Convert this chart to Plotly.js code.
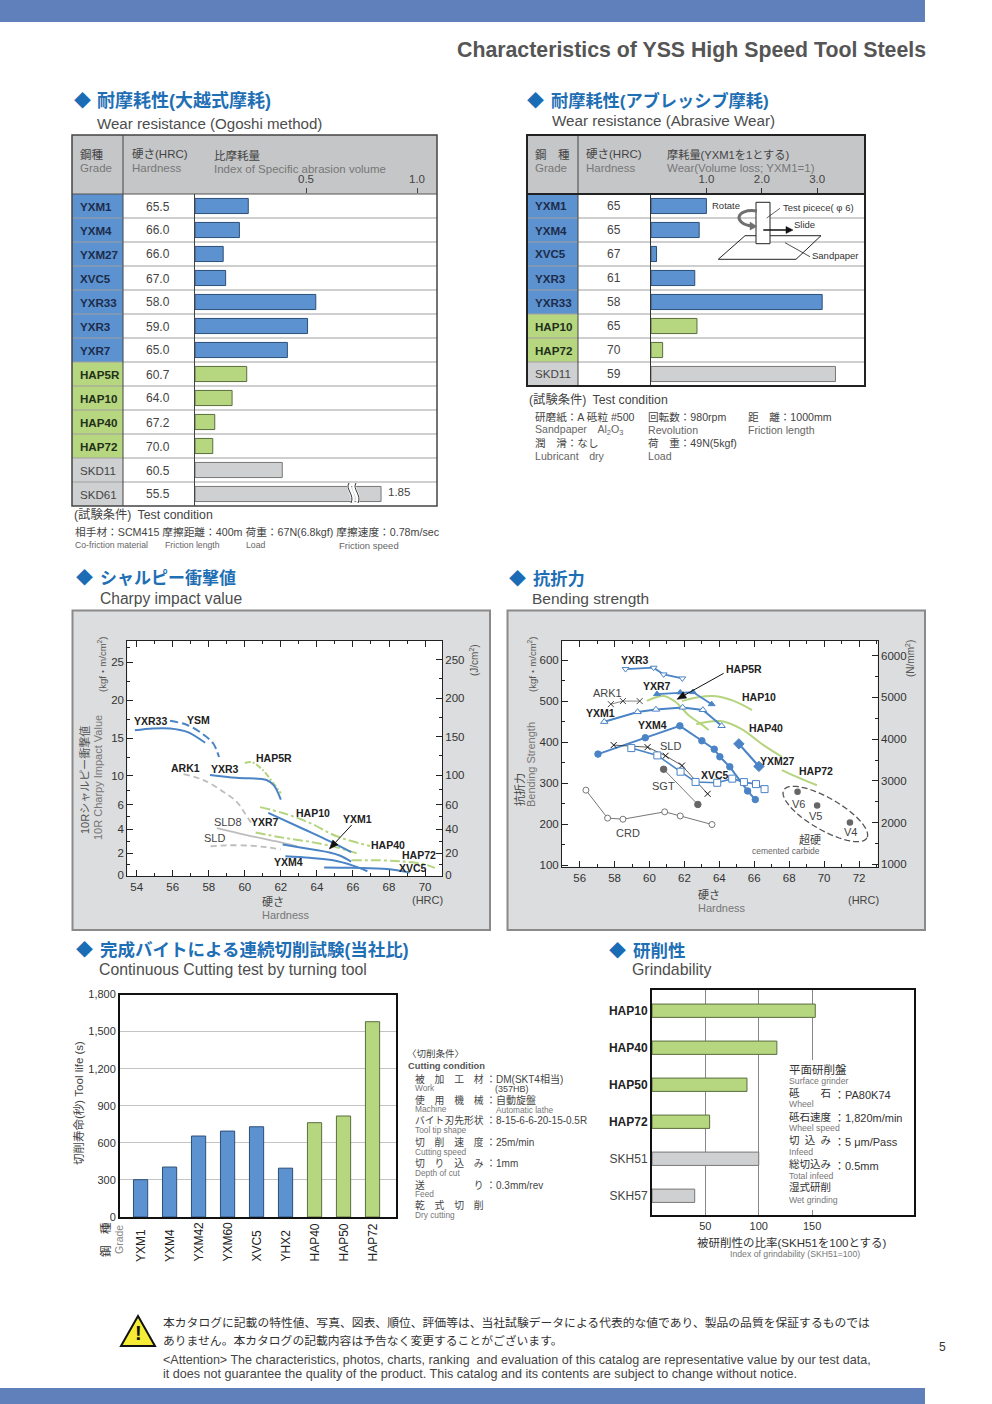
<!DOCTYPE html>
<html><head><meta charset="utf-8">
<script src="https://cdn.plot.ly/plotly-3.0.1.min.js"></script>
<style>html,body{margin:0;padding:0;background:#fff}#g{width:992px;height:1404px}</style>
</head><body><div id="g"></div>
<script>
// ---------- DATA ----------
const ogoshiGrades=['YXM1','YXM4','YXM27','XVC5','YXR33','YXR3','YXR7','HAP5R','HAP10','HAP40','HAP72','SKD11','SKD61'];
const ogoshiHardness=['65.5','66.0','66.0','67.0','58.0','59.0','65.0','60.7','64.0','67.2','70.0','60.5','55.5'];
const ogoshiValues=[0.24,0.20,0.127,0.138,0.544,0.507,0.416,0.233,0.167,0.089,0.08,0.393,0.838]; // SKD61 is drawn on a broken axis (1.85)
const abrasiveGrades=['YXM1','YXM4','XVC5','YXR3','YXR33','HAP10','HAP72','SKD11'];
const abrasiveHardness=['65','65','67','61','58','65','70','59'];
const abrasiveValues=[1.0,0.87,0.1,0.79,3.09,0.83,0.21,3.33];

const cYXR33x=[53.9,54.9,55.85,56.8,57.8], cYXR33y=[16.06,16.3,16.3,15.85,14.4];
const cYSMx=[55.85,56.8,57.7,58.25,58.57], cYSMy=[17.3,16.75,15.5,14.3,12.5];
const cHAP5Rx=[60,60.4,61,61.6,62], cHAP5Ry=[11.7,11.8,10.75,8.9,7.56];
const cYXR3x=[58.07,59.55,61.2,61.6,62], cYXR3y=[10.1,9.7,9.4,8.7,6.7];
const cARK1x=[56.6,57.7,58.8,59.55,60,60.4], cARK1y=[10.2,9.4,7.8,6.4,5.3,4.4];
const cSLD8x=[58.45,60.1,62.1,62.9], cSLD8y=[4.08,3.5,2.86,2.58];
const cSLDx=[58.1,59,60.3,61.2,62], cSLDy=[2.58,2.66,2.63,2.5,2.32];
const cHAP40x=[60.85,62.15,63.6,65.1,66.95], cHAP40y=[5.8,5.3,4.5,3.4,2.6];
const cHAP10x=[60.6,62.1,63.6,65.1,66.2], cHAP10y=[3.71,3.29,2.95,2.49,2.01];
const cHAP72x=[65.93,67.5,68.8,69.9,70.55], cHAP72y=[1.36,1.36,1.25,1.02,0.68];
const cYXR7x=[61.3,63.25,64.7,65.9], cYXR7y=[5.33,4.0,3.0,2.1];
const cYXM1x=[62.1,63.25,64.7,65.3,65.9], cYXM1y=[2.72,2.44,2.07,1.78,1.25];
const cYXM4x=[62.25,63.6,64.9,66.0,66.8], cYXM4y=[1.73,1.59,1.36,0.88,0.37];
const cXVC5x=[64.4,66,67.9,69.15], cXVC5y=[0.71,0.68,0.57,0.25];
const charpyTicks=[0,2,4,6,10,15,20,25];
const charpyTickPos=[0,22,46.3,70.6,99.6,137,175,213];
const charpyRightTicks=[0,20,40,60,100,150,200,250];
const charpyRightPos=[0,22,46.3,70.6,100.3,138.7,177.3,215.7];

const bYXR3x=[58.63,60.24,60.81,61.88], bYXR3y=[578.7,582,565.6,555.9];
const bYXR7x=[60.43,61.76,62.49,63.56], bYXR7y=[517.6,521.7,522.5,493];
const bARK1x=[57.79,58.48,59.44], bARK1y=[493,500.5,500.5];
const bYXM1x=[57.41,59.32,60.37,61.9,63.06,64.13], bYXM1y=[450,474,480,485,479,440];
const bYXM4x=[57.05,59.76,61.74,63,63.71,64.03,64.6,65.62,66.06], bYXM4y=[371,411,440,403.6,383,364.5,340,281,260];
const bSLDx=[57.95,59.89,60.92,61.86,63.33], bSLDy=[393,388,367,343,274];
const bXVC5x=[58.96,60.45,61.78,62.64,63.88,64.74,65.41,66.1,66.59], bXVC5y=[385.7,367.8,328,303,301,311,302.6,297.7,285.5];
const bSGTx=[60.81,62.77], bSGTy=[334,248];
const bCRDx=[56.36,57.6,58.48,60.87,61.76,63.58], bCRDy=[283,214.7,212,230,220,199];
const bYXM27x=[65.12,66.27], bYXM27y=[396,341];
const bHAP5Rx=[59.85,60.81,61.48,62.24,62.9,63.39], bHAP5Ry=[501,513,499,466,446,430];
const bHAP10x=[61.86,62.72,63.67,64.82,65.87], bHAP10y=[500.5,509.4,512.7,501,478.5];
const bHAP40x=[62.68,64.05,65.2,66.53,67.58], bHAP40y=[444,451.6,433.7,393,364.5];
const bHAP72x=[67.58,68.63,69.59], bHAP72y=[332,311.6,295];
const bCarbideX=[68.48,69.6,71.48], bCarbideY=[279,245.6,204];

const cutGrades=['YXM1','YXM4','YXM42','YXM60','XVC5','YHX2','HAP40','HAP50','HAP72'];
const cutValues=[302,404,655,695,730,395,763,817,1580];
const grindGrades=['HAP10','HAP40','HAP50','HAP72','SKH51','SKH57'];
const grindValues=[153,117,89,54,100,40];

// ---------- HELPERS ----------
const W=992,H=1404;
const FONT='"Liberation Sans","Noto Sans CJK JP",sans-serif';
const BLUE='#5d92d1',GREEN='#b6d67f',GRAY='#cfd0d1';
const LBLUE='#4a84c6',LGREEN='#b5d47e',LGRAY='#bdbdbd';
const colorOf=g=>g.startsWith('HAP')?GREEN:g.startsWith('SK')?GRAY:BLUE;
const lineOf=g=>g.startsWith('HAP')?'#5b6e3e':g.startsWith('SK')?'#777':'#2c4f78';
const dx=(a,b)=>[a/W,b/W], dy=(a,b)=>[1-b/H,1-a/H];
const shapes=[],ann=[];
function rect(x0,y0,x1,y1,fill,lc,lw,layer){shapes.push({type:'rect',xref:'paper',yref:'paper',x0:x0/W,x1:x1/W,y0:1-y0/H,y1:1-y1/H,fillcolor:fill||'rgba(0,0,0,0)',line:{color:lc||'rgba(0,0,0,0)',width:lw||0},layer:layer||'below'});}
function seg(x0,y0,x1,y1,c,w,layer,dash){shapes.push({type:'line',xref:'paper',yref:'paper',x0:x0/W,x1:x1/W,y0:1-y0/H,y1:1-y1/H,line:{color:c,width:w||1,dash:dash||'solid'},layer:layer||'below'});}
function pathPx(s,fill,c,w,layer,dash){let i=0;const p=s.replace(/-?\d+(\.\d+)?/g,m=>{const v=(i++%2===0)?(+m)/W:1-(+m)/H;return v.toFixed(5);});
  shapes.push({type:'path',xref:'paper',yref:'paper',path:p,fillcolor:fill||'rgba(0,0,0,0)',line:{color:c||'rgba(0,0,0,0)',width:w||0,dash:dash||'solid'},layer:layer||'above'});}
function T(x,y,text,o){o=o||{};ann.push({xref:'paper',yref:'paper',x:x/W,y:1-y/H,text:o.bold?'<b>'+text+'</b>':text,showarrow:false,xanchor:o.anchor||'left',yanchor:'middle',textangle:o.angle||0,borderpad:0,font:{family:o.family||FONT,size:o.size||11,color:o.color||'#444'}});}
function arrow(x,y,tx,ty,sz){const d=Math.hypot(tx-x,ty-y),ux=(tx-x)/d,uy=(ty-y)/d,bx=x+ux*sz*1.5,by=y+uy*sz*1.5,nx=-uy*sz*0.6,ny=ux*sz*0.6;
  seg(bx,by,tx,ty,'#111',1,'above');
  pathPx('M '+x.toFixed(2)+' '+y.toFixed(2)+' L '+(bx+nx).toFixed(2)+' '+(by+ny).toFixed(2)+' L '+(bx-nx).toFixed(2)+' '+(by-ny).toFixed(2)+' Z','#111','#111',0.5);}
function section(mx,jx,jy,jp,js,ex,ey,en,es){T(mx,jy,'◆',{size:17,color:'#1a6cb4',anchor:'center'});T(jx,jy,jp,{size:js,color:'#1f6fb5',bold:true});T(ex,ey,en,{size:es,color:'#4d4d4d'});}

const traces=[],layout={};
function barTrace(xa,ya,names,vals,gap){return {type:'bar',orientation:'h',x:vals,y:names,xaxis:xa,yaxis:ya,width:gap,marker:{color:names.map(colorOf),line:{color:names.map(lineOf),width:1}},hoverinfo:'skip',showlegend:false};}
function lineTrace(xa,ya,x,y,color,width,dash,marker,shape,name){const t={type:'scatter',mode:marker?'lines+markers':'lines',x,y,xaxis:xa,yaxis:ya,name,line:{color,width,dash:dash||'solid',shape:shape||'linear',smoothing:1},hoverinfo:'skip',showlegend:false};if(marker)t.marker=marker;return t;}
const axisHolder=(xa,ya)=>({type:'scatter',mode:'lines',x:[null],y:[null],xaxis:xa,yaxis:ya,hoverinfo:'skip',showlegend:false});

// page furniture
rect(0,0,925,22,'#5f80bb');
rect(0,1388,925,1404,'#5f80bb');
T(927,50,'Characteristics of YSS High Speed Tool Steels',{bold:true,size:21.3,color:'#555',anchor:'right'});

// ---------- TABLE 1 ----------
section(82,96,101,'耐摩耗性(大越式摩耗)',18,96,123,'Wear resistance (Ogoshi method)',15.1);
const t1Top=194,rowH=24;
rect(72,135,437,t1Top,'#c5c6c8');
ogoshiGrades.forEach((g,i)=>{const y=t1Top+i*rowH;rect(72,y,123,y+rowH,colorOf(g));
  if(i>0)seg(72,y,437,y,'#a0a0a0',1.2);
  const hap=!g.startsWith('SK');
  T(79,y+12.5,g,{bold:hap,size:11.6,color:g.startsWith('HAP')?'#22301a':hap?'#1c2c4a':'#444'});
  T(158,y+12.5,ogoshiHardness[i],{size:12,anchor:'center',color:'#444'});});
seg(123,135,123,506,'#444',1);
seg(72,t1Top,437,t1Top,'#555',1);
rect(72,135,437,506,null,'#444',1.5,'above');
T(79,154,'鋼種',{size:11.5});T(79,168,'Grade',{size:11.5,color:'#777'});
T(131,154,'硬さ(HRC)',{size:11.5});T(131,168,'Hardness',{size:11.5,color:'#777'});
T(213,156,'比摩耗量',{size:11.5});T(213,169,'Index of Specific abrasion volume',{size:11.5,color:'#777'});
T(387,492,'1.85',{size:11.5});
pathPx('M 350 484 C 346 489 356 495 352 502','rgba(0,0,0,0)','#fff',4);
pathPx('M 355 484 C 351 489 361 495 357 502','rgba(0,0,0,0)','#fff',4);
pathPx('M 349 483 C 345 489 355 495 351 503','rgba(0,0,0,0)','#333',1);
pathPx('M 356 483 C 352 489 362 495 358 503','rgba(0,0,0,0)','#333',1);
T(73,515,'(試験条件)\u2002Test condition',{size:12.3});
T(74,532,'相手材：SCM415 摩擦距離：400m 荷重：67N(6.8kgf) 摩擦速度：0.78m/sec',{size:10.7});
T(74,545,'Co-friction material',{size:8.7,color:'#666'});T(164,545,'Friction length',{size:8.7,color:'#666'});T(245,545,'Load',{size:8.7,color:'#666'});T(338,545,'Friction speed',{size:9.5,color:'#666'});
traces.push(barTrace('x','y',ogoshiGrades,ogoshiValues,0.63));
layout.xaxis={domain:dx(195,437),range:[0,1.09],side:'top',anchor:'y',ticks:'outside',ticklen:5,tickcolor:'#444',tickvals:[0.5,1],ticktext:['0.5','1.0'],showgrid:false,zeroline:false,showline:false,tickfont:{family:FONT,size:11.5,color:'#444'},fixedrange:true};
layout.yaxis={domain:dy(t1Top,506),type:'category',categoryorder:'array',categoryarray:ogoshiGrades,range:[12.5,-0.5],anchor:'x',showticklabels:false,ticks:'',showgrid:false,zeroline:false,showline:true,linecolor:'#444',linewidth:1,fixedrange:true};

// ---------- TABLE 2 ----------
section(535,550,101,'耐摩耗性(アブレッシブ摩耗)',17.2,551,121,'Wear resistance (Abrasive Wear)',15.2);
rect(527,135,865,t1Top,'#c5c6c8');
abrasiveGrades.forEach((g,i)=>{const y=t1Top+i*rowH;rect(527,y,578,y+rowH,colorOf(g));
  if(i>0)seg(527,y,865,y,'#a0a0a0',1.2);
  const hap=!g.startsWith('SK');
  T(534,y+12,g,{bold:hap,size:11.6,color:g.startsWith('HAP')?'#22301a':hap?'#1c2c4a':'#444'});
  T(614,y+12,abrasiveHardness[i],{size:12,anchor:'center',color:'#444'});});
seg(578,135,578,386,'#444',1);
seg(527,t1Top,865,t1Top,'#222',2);
rect(527,135,865,386,null,'#222',2,'above');
T(534,154,'鋼\u3000種',{size:11.5});T(534,168,'Grade',{size:11.5,color:'#777'});
T(585,154,'硬さ(HRC)',{size:11.5});T(585,168,'Hardness',{size:11.5,color:'#777'});
T(666,155,'摩耗量(YXM1を1とする)',{size:11.2});T(666,168,'Wear(Volume loss; YXM1=1)',{size:11.5,color:'#777'});
// test-piece inset
pathPx('M 718.3 259.3 L 745 235.7 L 821 235.7 L 796 259.3 Z','rgba(255,255,255,0)','#222',1);
rect(756,202.3,770,243.7,'#fff','#222',1,'above');
seg(763.3,230,788,230,'#111',1.5,'above');
pathPx('M 786 226.5 L 793 230 L 786 233.5 Z','#111','#111',0.5);
seg(785,242.7,810,256.7,'#222',0.8,'above');
seg(766.7,218,780,208.3,'#222',0.7,'above');
pathPx('M 757 211 C 735 208 733 224 752 226','rgba(0,0,0,0)','#6f6f6f',3);
pathPx('M 750 222 L 757 226.5 L 750 230 Z','#6f6f6f','#6f6f6f',0.5);
T(711,206,'Rotate',{size:9.5,color:'#333'});T(782,207,'Test picece( φ 6)',{size:9.5,color:'#333'});T(793,224,'Slide',{size:9.5,color:'#333'});T(811,256,'Sandpaper',{size:9.5,color:'#333'});
T(528,399,'(試験条件)\u2002Test condition',{size:12.3});
T(534,417,'研磨紙：A 砥粒 #500',{size:10.6});T(534,430,'Sandpaper\u2003Al<sub>2</sub>O<sub>3</sub>',{size:10.6,color:'#666'});
T(534,443,'潤\u3000滑：なし',{size:10.6});T(534,456,'Lubricant\u2003dry',{size:10.6,color:'#666'});
T(647,417,'回転数：980rpm',{size:10.6});T(647,430,'Revolution',{size:10.6,color:'#666'});
T(647,443,'荷\u3000重：49N(5kgf)',{size:10.6});T(647,456,'Load',{size:10.6,color:'#666'});
T(747,417,'距\u3000離：1000mm',{size:10.6});T(747,430,'Friction length',{size:10.6,color:'#666'});
traces.push(barTrace('x2','y2',abrasiveGrades,abrasiveValues,0.63));
layout.xaxis2={domain:dx(651,865),range:[0,3.863],side:'top',anchor:'y2',ticks:'outside',ticklen:5,tickcolor:'#333',tickvals:[1,2,3],ticktext:['1.0','2.0','3.0'],showgrid:false,zeroline:false,showline:false,tickfont:{family:FONT,size:11.5,color:'#444'},fixedrange:true};
layout.yaxis2={domain:dy(t1Top,386),type:'category',categoryorder:'array',categoryarray:abrasiveGrades,range:[7.5,-0.5],anchor:'x2',showticklabels:false,ticks:'',showgrid:false,zeroline:false,showline:true,linecolor:'#333',linewidth:1,fixedrange:true};

// ---------- CHARPY ----------
section(84,99,578,'シャルピー衝撃値',17,99,598,'Charpy impact value',15.6);
rect(72.5,610.5,490,930,'#dcddde','#8a8a8a',2);
rect(127.3,641,442,876,'#fff');
function interp(v,a,b){for(let i=1;i<a.length;i++){if(v<=a[i])return b[i-1]+(v-a[i-1])*(b[i]-b[i-1])/(a[i]-a[i-1]);}return b[b.length-1];}
const cMap=v=>interp(v,charpyTicks,charpyTickPos);
const cL=(x,y,c,dash,w,n)=>traces.push(lineTrace('x3','y3',x,y.map(cMap),c,w||2,dash,null,'spline',n));
cL(cYXR33x,cYXR33y,LBLUE,null,2,'YXR33');
cL(cYSMx,cYSMy,LBLUE,'8px,4px',2,'YSM');
cL(cHAP5Rx,cHAP5Ry,LGREEN,'6px,2px,2px,2px',2,'HAP5R');
cL(cYXR3x,cYXR3y,LBLUE,null,2,'YXR3');
cL(cARK1x,cARK1y,LGRAY,'6px,4px',1.8,'ARK1');
cL(cSLD8x,cSLD8y,LGRAY,null,1.8,'SLD8');
cL(cSLDx,cSLDy,LGRAY,'6px,4px',1.8,'SLD');
cL(cHAP40x,cHAP40y,LGREEN,'10px,3px,3px,3px',2,'HAP40');
cL(cHAP10x,cHAP10y,LGREEN,'10px,3px,3px,3px',2,'HAP10');
cL(cHAP72x,cHAP72y,LGREEN,'10px,3px,3px,3px',2,'HAP72');
cL(cYXR7x,cYXR7y,LBLUE,null,2,'YXR7');
cL(cYXM1x,cYXM1y,LBLUE,null,2,'YXM1');
cL(cYXM4x,cYXM4y,LBLUE,null,2,'YXM4');
cL(cXVC5x,cXVC5y,LBLUE,null,2,'XVC5');
traces.push(axisHolder('x3','y8'));
const axFont={family:FONT,size:11.5,color:'#333'};
layout.xaxis3={domain:dx(127.3,442),range:[53.48,70.94],anchor:'y3',tickvals:[54,56,58,60,62,64,66,68,70],ticks:'inside',ticklen:6,tickcolor:'#222',mirror:'ticks',showline:true,linecolor:'#222',linewidth:1,showgrid:false,zeroline:false,tickfont:axFont,minor:{tickvals:[55,57,59,61,63,65,67,69],ticks:'inside',ticklen:3,tickcolor:'#222'},fixedrange:true};
layout.yaxis3={domain:dy(641,876),range:[-0.7,234.3],anchor:'x3',tickvals:charpyTickPos,ticktext:charpyTicks.map(String),ticks:'inside',ticklen:6,tickcolor:'#222',showline:true,linecolor:'#222',linewidth:1,showgrid:false,zeroline:false,tickfont:axFont,minor:{tickvals:[1,3,5,8,12.5,17.5,22.5,27].map(v=>v>25?cMap(25)+15.2:cMap(v)),ticks:'inside',ticklen:3,tickcolor:'#222'},fixedrange:true};
layout.yaxis8={domain:dy(641,876),range:[-0.7,234.3],anchor:'x3',overlaying:'y3',side:'right',tickvals:charpyRightPos,ticktext:charpyRightTicks.map(String),ticks:'inside',ticklen:6,tickcolor:'#222',showline:true,linecolor:'#222',linewidth:1,showgrid:false,zeroline:false,tickfont:axFont,minor:{tickvals:[10,30,50,80,125,175,225].map(v=>interp(v,charpyRightTicks,charpyRightPos)),ticks:'inside',ticklen:3,tickcolor:'#222'},fixedrange:true};
const CX=z=>70+z/3,CY=z=>610+z/3;
[['YXR33',242,332,1],['YSM',384,331,1],['HAP5R',612,445,1],['ARK1',346,475,1],['YXR3',465,478,1],['HAP10',728,608,1],['YXM1',862,628,1],['YXR7',586,637,1],['SLD8',475,635,0],['SLD',432,685,0],['HAP40',955,705,1],['HAP72',1048,735,1],['YXM4',654,755,1],['XVC5',1030,774,1]]
 .forEach(l=>T(CX(l[1]),CY(l[2]),l[0],{bold:!!l[3],size:l[3]?10.5:11,color:l[3]?'#222':'#444',anchor:'center'}));
arrow(CX(778),CY(717),CX(845),CY(645),6);
T(84,780,'10Rシャルピー衝撃値',{angle:-90,size:11,anchor:'center',color:'#555'});
T(98,778,'10R Charpy Impact Value',{angle:-90,size:11,anchor:'center',color:'#777'});
T(102,665,'(kgf・m/cm<sup>2</sup>)',{angle:-90,size:9.5,anchor:'center',color:'#555'});
T(474,660,'(J/cm<sup>2</sup>)',{angle:-90,size:10,anchor:'center',color:'#555'});
T(261,902,'硬さ',{size:11,color:'#444'});T(261,915,'Hardness',{size:11,color:'#777'});T(427,900,'(HRC)',{size:11,anchor:'center'});

// ---------- BENDING ----------
section(517,532,579,'抗折力',17.3,531,598,'Bending strength',15.5);
rect(507.5,610.5,925,930,'#dcddde','#8a8a8a',2);
rect(562,640.7,877.7,866.7,'#fff');
const mk=(s,c,lc,sz,lw)=>({symbol:s,color:c,size:sz,line:{color:lc||c,width:lw===undefined?1:lw}});
const bL=(x,y,c,w,m,shape,n)=>traces.push(lineTrace('x4','y4',x,y,c,w,null,m,shape,n));
bL(bHAP5Rx,bHAP5Ry,LGREEN,2,null,'spline','HAP5R');
bL(bHAP10x,bHAP10y,LGREEN,2,null,'spline','HAP10');
bL(bHAP40x,bHAP40y,LGREEN,2,null,'spline','HAP40');
bL(bHAP72x,bHAP72y,LGREEN,2,null,'spline','HAP72');
bL(bYXR3x,bYXR3y,LBLUE,1.8,mk('triangle-down','#fff',LBLUE,6,1),null,'YXR3');
bL(bYXR7x,bYXR7y,LBLUE,1.8,mk('triangle-up',LBLUE,LBLUE,6),null,'YXR7');
bL(bARK1x,bARK1y,'#666',0.8,mk('x-thin','#444','#444',6,1),null,'ARK1');
bL(bYXM1x,bYXM1y,LBLUE,2,mk('triangle-up','#fff',LBLUE,6.5,1),null,'YXM1');
bL(bYXM4x,bYXM4y,LBLUE,2,mk('circle',LBLUE,LBLUE,6.5),null,'YXM4');
bL(bSLDx,bSLDy,'#333',0.8,mk('x-thin','#111','#111',6,1),null,'SLD');
bL(bXVC5x,bXVC5y,LBLUE,1.6,mk('square','#fff',LBLUE,7,1),null,'XVC5');
bL(bSGTx,bSGTy,'#555',0.8,mk('circle','#666','#666',6.5),null,'SGT');
bL(bCRDx,bCRDy,'#666',0.9,mk('circle','#fff','#666',6,0.9),null,'CRD');
bL(bYXM27x,bYXM27y,LBLUE,2.2,mk('diamond',LBLUE,LBLUE,8),null,'YXM27');
traces.push({type:'scatter',mode:'markers',x:bCarbideX,y:bCarbideY,xaxis:'x4',yaxis:'y4',marker:{symbol:'circle',size:6.5,color:'#666'},hoverinfo:'skip',showlegend:false,name:'V6 V5 V4'});
traces.push(axisHolder('x4','y9'));
layout.xaxis4={domain:dx(562,877.7),range:[54.99,73.07],anchor:'y4',tickvals:[56,58,60,62,64,66,68,70,72],ticks:'inside',ticklen:6,tickcolor:'#222',mirror:'ticks',showline:true,linecolor:'#222',linewidth:1,showgrid:false,zeroline:false,tickfont:axFont,minor:{tickvals:[57,59,61,63,65,67,69,71,73],ticks:'inside',ticklen:3,tickcolor:'#222'},fixedrange:true};
layout.yaxis4={domain:dy(640.7,866.7),range:[96,648],anchor:'x4',tickvals:[100,200,300,400,500,600],ticks:'inside',ticklen:6,tickcolor:'#222',showline:true,linecolor:'#222',linewidth:1,showgrid:false,zeroline:false,tickfont:axFont,minor:{tickvals:[150,250,350,450,550],ticks:'inside',ticklen:3,tickcolor:'#222'},fixedrange:true};
layout.yaxis9={domain:dy(640.7,866.7),range:[946,6359],anchor:'x4',overlaying:'y4',side:'right',tickvals:[1000,2000,3000,4000,5000,6000],ticks:'inside',ticklen:6,tickcolor:'#222',showline:true,linecolor:'#222',linewidth:1,showgrid:false,zeroline:false,tickfont:axFont,minor:{tickvals:[1500,2500,3500,4500,5500],ticks:'inside',ticklen:3,tickcolor:'#222'},fixedrange:true};
const BX=z=>507+z/3,BY=z=>610+z/3;
[['YXR3',384,151,1],['HAP5R',712,178,1],['ARK1',300,250,0],['YXR7',450,227,1],['HAP10',755,260,1],['YXM1',281,310,1],['YXM4',437,346,1],['HAP40',776,354,1],['SLD',490,409,0],['YXM27',810,453,1],['XVC5',623,494,1],['HAP72',926,483,1],['SGT',468,528,0],['V6',873,582,0],['V5',924,619,0],['V4',1029,666,0],['CRD',364,670,0],['超硬',910,689,0]]
 .forEach(l=>T(BX(l[1]),BY(l[2]),l[0],{bold:!!l[3],size:l[3]?10.5:11,color:l[3]?'#222':'#444',anchor:'center'}));
T(BX(838),BY(723),'cemented carbide',{size:8.5,anchor:'center',color:'#666'});
arrow(BX(510),BY(268),BX(650),BY(190),6);
(function(){const cx=BX(955),cy=BY(612),a=48,b=16,t=30*Math.PI/180;let s='';
  for(let i=0;i<=60;i++){const u=i/60*2*Math.PI,px=cx+a*Math.cos(u)*Math.cos(t)-b*Math.sin(u)*Math.sin(t),py=cy+a*Math.cos(u)*Math.sin(t)+b*Math.sin(u)*Math.cos(t);s+=(i?'L ':'M ')+px.toFixed(2)+' '+py.toFixed(2)+' ';}
  pathPx(s,'rgba(0,0,0,0)','#555',1.3,'above','6px,3px');})();
T(519,790,'抗折力',{angle:-90,size:11,anchor:'center',color:'#444'});
T(531,765,'Bending Strength',{angle:-90,size:11,anchor:'center',color:'#777'});
T(532,665,'(kgf・m/cm<sup>2</sup>)',{angle:-90,size:9.5,anchor:'center',color:'#555'});
T(910,659,'(N/mm<sup>2</sup>)',{angle:-90,size:10,anchor:'center',color:'#555'});
T(697,895,'硬さ',{size:11});T(697,908,'Hardness',{size:11,color:'#777'});T(863,900,'(HRC)',{size:11,anchor:'center'});

// ---------- CUTTING ----------
section(84,99,950,'完成バイトによる連続切削試験(当社比)',17.5,98,970,'Continuous Cutting test by turning tool',15.8);
traces.push({type:'bar',x:cutGrades,y:cutValues,xaxis:'x5',yaxis:'y5',width:0.49,marker:{color:cutGrades.map(colorOf),line:{color:cutGrades.map(lineOf),width:1}},hoverinfo:'skip',showlegend:false});
layout.xaxis5={domain:dx(120,396),type:'category',categoryorder:'array',categoryarray:cutGrades,range:[-0.71,8.81],anchor:'y5',showticklabels:false,ticks:'',showline:true,mirror:true,linecolor:'#111',linewidth:2,showgrid:false,zeroline:false,fixedrange:true};
layout.yaxis5={domain:dy(994.5,1217),range:[0,1800],anchor:'x5',tickvals:[0,300,600,900,1200,1500,1800],ticktext:['0','300','600','900','1,200','1,500','1,800'],ticks:'',showline:true,mirror:true,linecolor:'#111',linewidth:2,showgrid:true,gridcolor:'#c4c4c4',gridwidth:1,zeroline:false,tickfont:{family:FONT,size:11,color:'#333'},fixedrange:true};
cutGrades.forEach((g,i)=>ann.push({xref:'x5',yref:'paper',x:i,y:1-1263/H,text:g,showarrow:false,textangle:-90,xanchor:'center',yanchor:'bottom',borderpad:0,font:{family:FONT,size:12,color:'#222'}}));
T(78,1103,'切削寿命(秒) Tool life (s)',{angle:-90,size:11.5,anchor:'center',color:'#444'});
T(105,1240,'鋼\u3000種',{angle:-90,size:11.5,anchor:'center',color:'#333'});
T(119,1240,'Grade',{angle:-90,size:10.5,anchor:'center',color:'#888'});
T(406,1053,'〈切削条件〉',{size:9.5});
T(407,1066,'Cutting condition',{bold:true,size:9.3,color:'#555'});
[['被\u3000加\u3000工\u3000材',1079,'Work',1088],['使\u3000用\u3000機\u3000械',1100,'Machine',1109],['バイト刃先形状',1120,'Tool tip shape',1130],['切\u3000削\u3000速\u3000度',1142,'Cutting speed',1152],['切\u3000り\u3000込\u3000み',1163,'Depth of cut',1173],['送\u3000\u3000\u3000\u3000\u3000り',1185,'Feed',1194],['乾\u3000式\u3000切\u3000削',1205,'Dry cutting',1215]]
 .forEach(r=>{T(414,r[1],r[0],{size:9.8});T(414,r[3],r[2],{size:8.3,color:'#777'});});
[['：DM(SKT4相当)',1079],['：自動旋盤',1100],['：8-15-6-6-20-15-0.5R',1120],['：25m/min',1142],['：1mm',1163],['：0.3mm/rev',1185]].forEach(r=>T(485,r[1],r[0],{size:10}));
T(494,1089,'(357HB)',{size:9});T(495,1110,'Automatic lathe',{size:8.3,color:'#777'});

// ---------- GRINDABILITY ----------
section(617,632,951,'研削性',17.5,631,970,'Grindability',15.9);
traces.push(barTrace('x6','y6',grindGrades,grindValues,0.36));
layout.xaxis6={domain:dx(652,914),range:[0,245.5],anchor:'y6',tickvals:[50,100,150],ticks:'',showline:true,mirror:true,linecolor:'#111',linewidth:2,showgrid:true,gridcolor:'#888',gridwidth:1,zeroline:false,tickfont:{family:FONT,size:11,color:'#333'},fixedrange:true};
layout.yaxis6={domain:dy(990,1215),type:'category',categoryorder:'array',categoryarray:grindGrades,range:[5.52,-0.56],anchor:'x6',tickvals:grindGrades,ticktext:grindGrades.map(g=>g.startsWith('HAP')?'<b style="color:#222">'+g+'</b>':g),ticks:'',showline:true,mirror:true,linecolor:'#111',linewidth:2,showgrid:false,zeroline:false,tickfont:{family:FONT,size:12,color:'#444'},fixedrange:true};
rect(785,1060,905,1210,'#fff',null,0,'above');
T(788,1069,'平面研削盤',{size:11.5,color:'#333'});T(788,1080.5,'Surface grinder',{size:8.7,color:'#777'});
[['砥\u3000\u3000石',1093,'Wheel',1104,'：PA80K74',1095],['砥石速度',1116.5,'Wheel speed',1128,'：1,820m/min',1118],['切\u2002込\u2002み',1140,'Infeed',1152,'：5 μm/Pass',1142],['総切込み',1164,'Total infeed',1176,'：0.5mm',1166]]
 .forEach(r=>{T(788,r[1],r[0],{size:10.5,color:'#333'});T(788,r[3],r[2],{size:8.7,color:'#777'});T(833,r[5],r[4],{size:11,color:'#333'});});
T(788,1187,'湿式研削',{size:10.5,color:'#333'});T(788,1200,'Wet grinding',{size:8.7,color:'#777'});
T(792,1242,'被研削性の比率(SKH51を100とする)',{size:11.5,anchor:'center',color:'#333'});
T(795,1254,'Index of grindability (SKH51=100)',{size:8.7,anchor:'center',color:'#777'});

// ---------- FOOTER ----------
pathPx('M 138 1316 L 155 1346 L 121 1346 Z','#f7ec35','#111',2);
T(138,1333,'!',{bold:true,size:20,anchor:'center',color:'#111'});
T(162,1323,'本カタログに記載の特性値、写真、図表、順位、評価等は、当社試験データによる代表的な値であり、製品の品質を保証するものでは',{size:11.8,color:'#333'});
T(162,1341,'ありません。本カタログの記載内容は予告なく変更することがございます。',{size:11.8,color:'#333'});
T(162,1360,'&lt;Attention&gt; The characteristics, photos, charts, ranking  and evaluation of this catalog are representative value by our test data,',{size:12.55,color:'#444'});
T(162,1374,'it does not guarantee the quality of the product. This catalog and its contents are subject to change without notice.',{size:12.6,color:'#444'});
T(942,1347,'5',{size:12,anchor:'center',color:'#333'});

Object.assign(layout,{width:W,height:H,margin:{l:0,r:0,t:0,b:0},paper_bgcolor:'#fff',plot_bgcolor:'rgba(0,0,0,0)',showlegend:false,barmode:'overlay',font:{family:FONT},shapes,annotations:ann,hovermode:false});
Plotly.newPlot('g',traces,layout,{displayModeBar:false,staticPlot:true});
</script></body></html>
